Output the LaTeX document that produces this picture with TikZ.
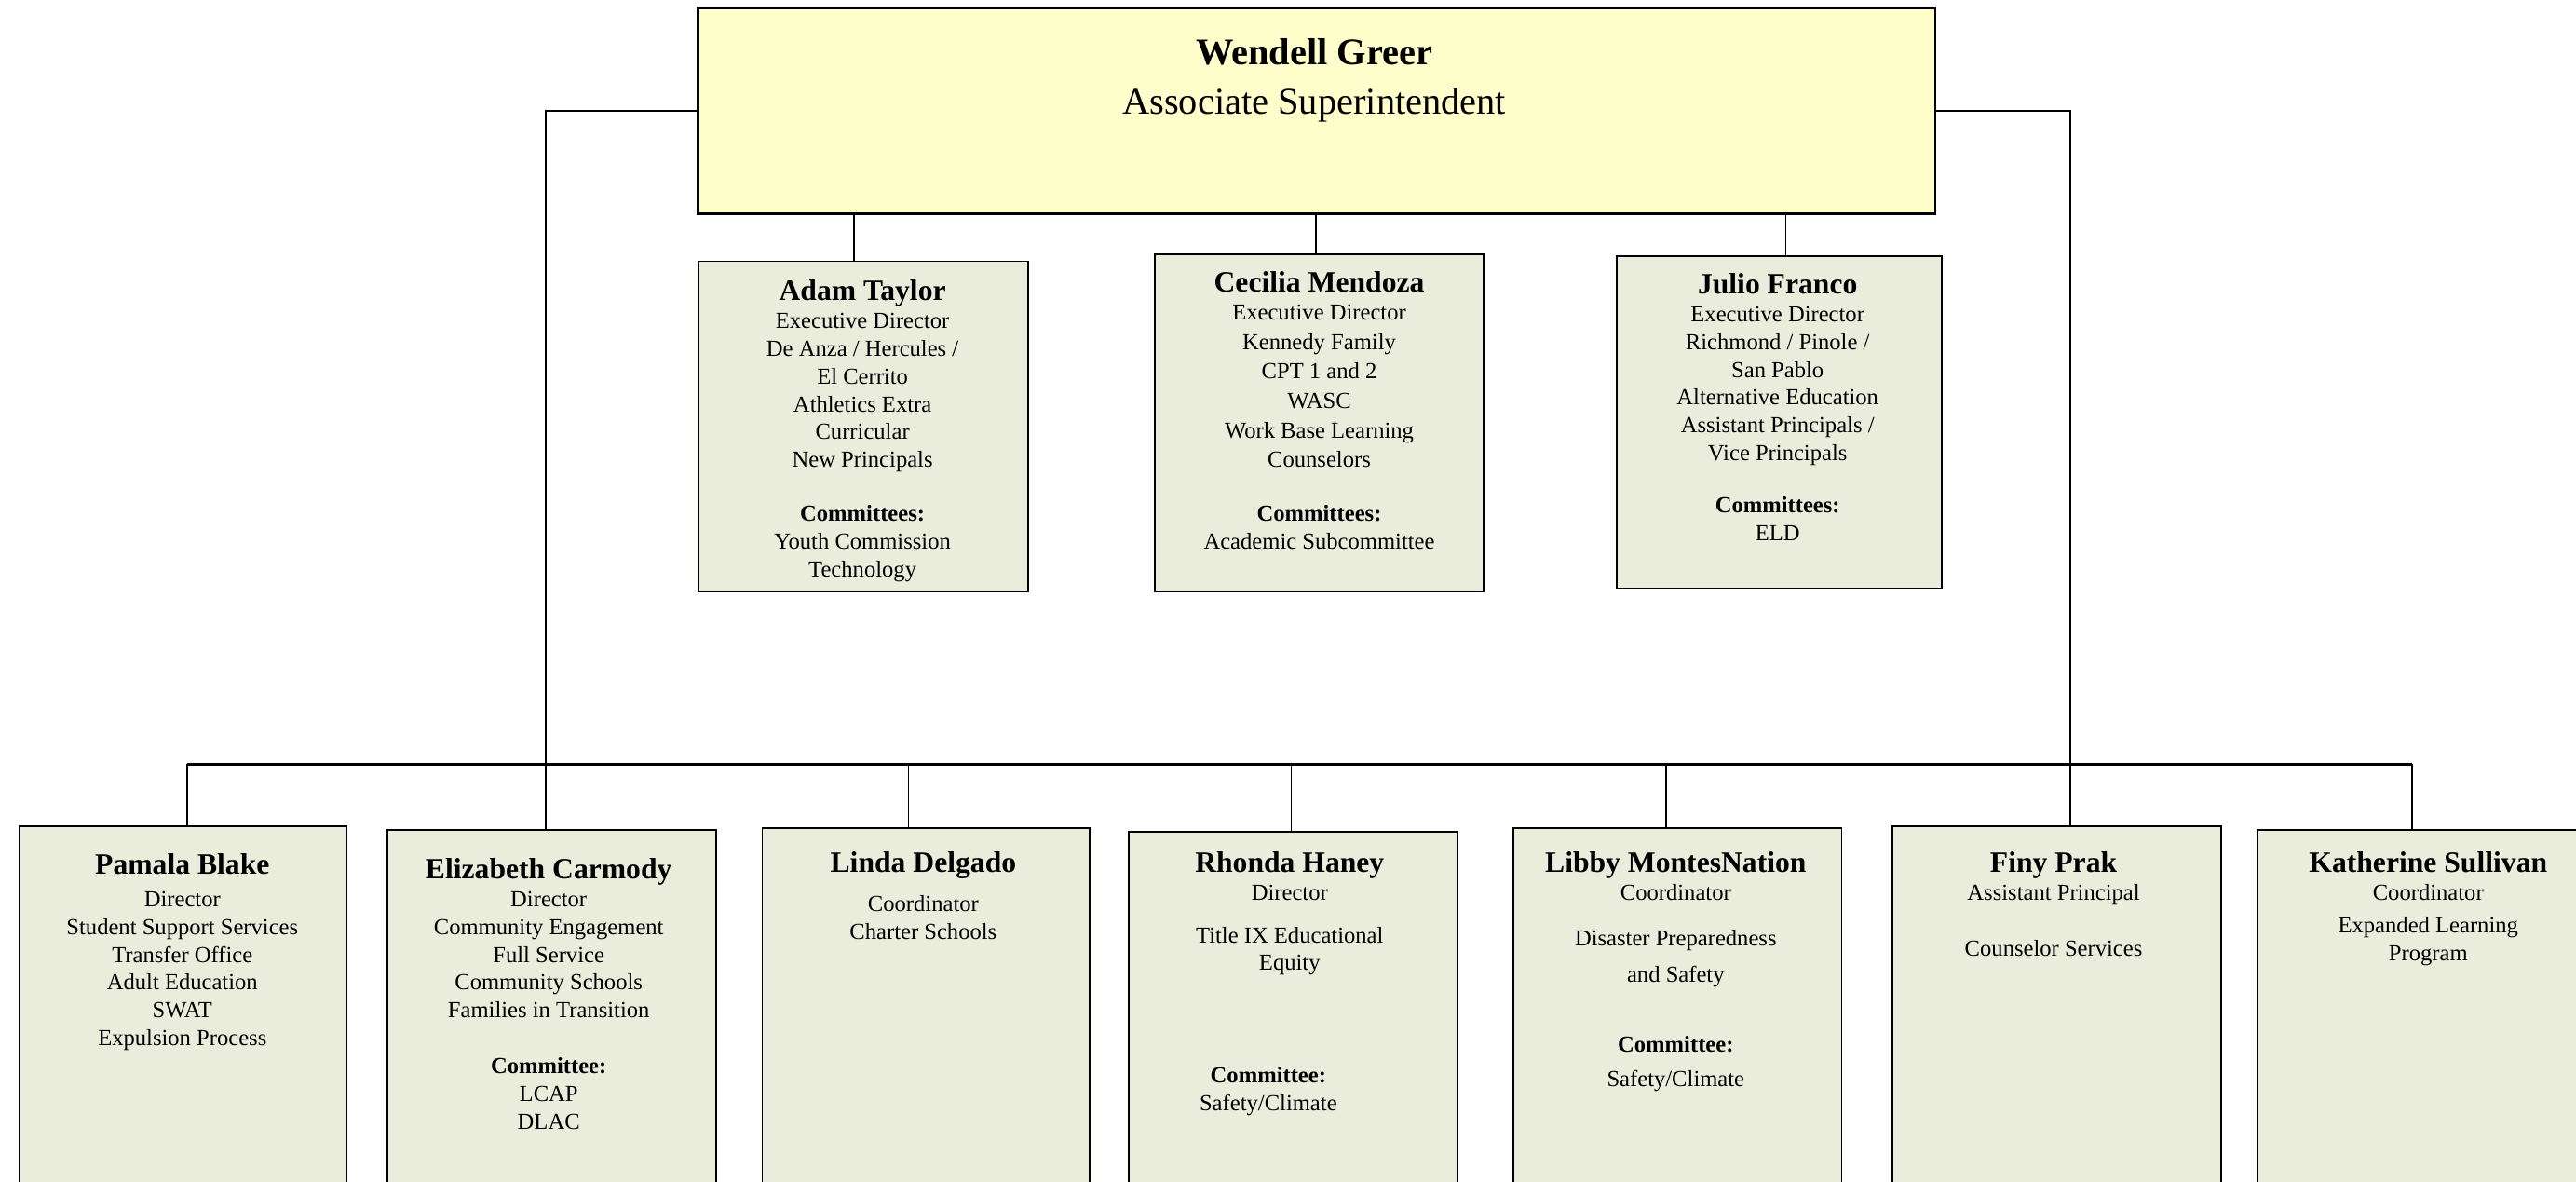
\documentclass[tikz,border=0pt]{standalone}
\usepackage{fontspec}
\setmainfont{Liberation Serif}
\usetikzlibrary{fit}
\definecolor{headfill}{HTML}{FFFFCC}
\definecolor{cardfill}{HTML}{EAEDDC}
\newcommand\cardname[1]{{\fontsize{9}{10}\selectfont\bfseries #1}}
\begin{document}
\begin{tikzpicture}[x=0.01764cm,y=-0.01764cm,
  card/.style={draw=black,fill=cardfill,line width=0.55pt,inner sep=0pt},
  head/.style={draw=black,fill=headfill,line width=0.8pt,inner sep=0pt},
  txt/.style={align=center,inner sep=0pt,anchor=north,font=\fontsize{7}{8.5}\selectfont},
  link/.style={line width=0.5pt},
  bus/.style={line width=0.9pt}]
\useasboundingbox (0,0) rectangle (1568,719);
\clip (0,0) rectangle (1568,719);
% top box
\node[head, fit={(425,5) (1178,130)}] (greer) {};
\node[txt, font=\fontsize{11.5}{15}\selectfont] (greertxt) at (800,23) {\textbf{Wendell Greer}\\Associate Superintendent};
% executive directors
\node[card, fit={(425,159) (626,360)}] (taylor) {};
\node[card, fit={(703,155) (903,360)}] (mendoza) {};
\node[card, fit={(984,156) (1182,358)}] (franco) {};
\node[txt] (taylortxt) at (525,170) {\cardname{Adam Taylor}\\Executive Director\\De Anza / Hercules /\\El Cerrito\\Athletics Extra\\Curricular\\New Principals\\[8pt]\textbf{Committees:}\\Youth Commission\\Technology};
\node[txt] (mendozatxt) at (803,165) {\cardname{Cecilia Mendoza}\\Executive Director\\[0.5pt]Kennedy Family\\[0.5pt]CPT 1 and 2\\[0.5pt]WASC\\[0.5pt]Work Base Learning\\[0.5pt]Counselors\\[8pt]\textbf{Committees:}\\Academic Subcommittee};
\node[txt] (francotxt) at (1082,166) {\cardname{Julio Franco}\\Executive Director\\Richmond / Pinole /\\San Pablo\\Alternative Education\\Assistant Principals /\\Vice Principals\\[7.5pt]\textbf{Committees:}\\ELD};
% lower row
\node[card, fit={(12,503) (211,760)}] (blake) {};
\node[card, fit={(236,505) (436,760)}] (carmody) {};
\node[card, fit={(464,504) (663,760)}] (delgado) {};
\node[card, fit={(687,506) (887,760)}] (haney) {};
\node[card, fit={(921,504) (1121,760)}] (montesnation) {};
\node[card, fit={(1152,503) (1352,760)}] (prak) {};
\node[card, fit={(1374,505) (1574,760)}] (sullivan) {};
\node[txt] (blaketxt) at (111,519) {\cardname{Pamala Blake}\\[1.5pt]Director\\Student Support Services\\Transfer Office\\Adult Education\\SWAT\\Expulsion Process};
\node[txt] (carmodytxt) at (334,522) {\cardname{Elizabeth Carmody}\\Director\\Community Engagement\\Full Service\\Community Schools\\Families in Transition\\[8.5pt]\textbf{Committee:}\\LCAP\\DLAC};
\node[txt] (delgadotxt) at (562,518) {\cardname{Linda Delgado}\\[3.5pt]Coordinator\\Charter Schools};
\node[txt] (haneytxt) at (785,518) {\cardname{Rhonda Haney}\\Director\\[4.5pt]Title IX Educational\\Equity};
\node[txt] (haneycom) at (772,649) {\textbf{Committee:}\\Safety/Climate};
\node[txt] (montestxt) at (1020,518) {\cardname{Libby MontesNation}\\Coordinator\\[5.5pt]Disaster Preparedness\\[2.5pt]and Safety\\[13pt]\textbf{Committee:}\\[2pt]Safety/Climate};
\node[txt] (praktxt) at (1250,518) {\cardname{Finy Prak}\\Assistant Principal\\[8.5pt]Counselor Services};
\node[txt] (sullivantxt) at (1478,518) {\cardname{Katherine Sullivan}\\Coordinator\\[1.5pt]Expanded Learning\\Program};
% connectors
\draw[link] (greer.west) -- (332,0 |- greer.west) -- (332,0 |- carmody.north);
\draw[link] (greer.east) -- (1260,0 |- greer.east) -- (1260,0 |- prak.north);
\foreach \c/\x in {taylor/520,mendoza/801,franco/1087}
  \draw[link] (\x,0 |- greer.south) -- (\x,0 |- \c.north);
\coordinate (busL) at (114,465);
\coordinate (busR) at (1468,465);
\draw[bus] (busL) -- (busR);
\foreach \c/\x in {blake/114,delgado/553,haney/786,montesnation/1014,sullivan/1468}
  \draw[link] (\x,465) -- (\x,0 |- \c.north);
\end{tikzpicture}
\end{document}
